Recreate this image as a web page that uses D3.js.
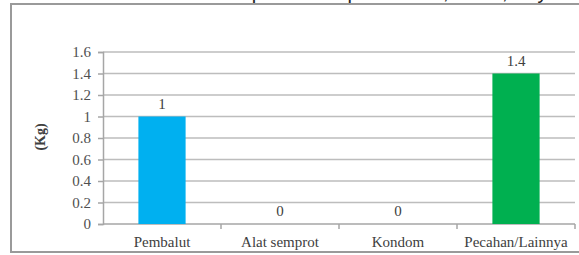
<!doctype html>
<html>
 <head>
  <meta charset='utf-8'>
  <title></title>
  <style>
    html,body{margin:0;background:#fff;}
    svg{display:block;}
    text{font-family:'Liberation Serif','Times New Roman',serif;fill:#404040;}
  </style>
 </head>
 <body>
  <svg id='chart' width='579' height='255'></svg>
  <script src='https://cdn.jsdelivr.net/npm/d3@7/dist/d3.min.js'></script>
  <script>
    // data
    var categories = ['Pembalut','Alat semprot','Kondom','Pecahan/Lainnya']
    var values     = [1, 0, 0, 1.4]
    var colors     = ['#00b0f0','#00b050','#00b050','#00b050']
    var yTicks     = [0,0.2,0.4,0.6,0.8,1,1.2,1.4,1.6]
    var caption    = 'Gambar 4.8. Sampah Kelompok Kertas, Karet, Kayu'

    var svg = d3.select('#chart')

    // caption cut off at the top
    svg.append('text')
       .attr('x',94).attr('y',-1)
       .style('font-family','Liberation Sans,Arial,sans-serif')
       .style('font-size','20px')
       .style('fill','#222')
       .text(caption)

    // frame
    svg.append('rect')
       .attr('x',11).attr('y',4)
       .attr('width',590).attr('height',248)
       .attr('fill','none')
       .attr('stroke','#9a9a9a')
       .attr('stroke-width',2)

    var x = d3.scaleBand().domain(categories).range([103,575]).paddingInner(0.6).paddingOuter(0.3)
    var y = d3.scaleLinear().domain([0,1.6]).range([224,52])

    // grid
    svg.append('g')
       .selectAll('line')
       .data(yTicks.slice(1))
       .join('line')
       .attr('x1',103).attr('x2',575)
       .attr('y1',function(d){ return y(d) })
       .attr('y2',function(d){ return y(d) })
       .attr('stroke','#bdbdbd')
       .attr('stroke-width',1.5)

    // y axis
    var yAxis = svg.append('g')
       .attr('transform','translate(103,0)')
       .call(d3.axisLeft(y).tickValues(yTicks).tickSize(5).tickPadding(7).tickFormat(d3.format('')))
    yAxis.select('.domain').attr('stroke','#a6a6a6').attr('stroke-width',1.5)
    yAxis.selectAll('.tick line').attr('stroke','#a6a6a6').attr('stroke-width',1.5)
    yAxis.selectAll('text').style('font-size','15px').style('fill','#505050')

    // x axis
    var xb = d3.scaleLinear().domain([0,4]).range([103,575])
    svg.append('line')
       .attr('x1',103).attr('x2',575)
       .attr('y1',y(0)).attr('y2',y(0))
       .attr('stroke','#a6a6a6').attr('stroke-width',1.5)
    svg.append('g')
       .selectAll('line')
       .data([1,2,3,4])
       .join('line')
       .attr('x1',function(d){ return xb(d) })
       .attr('x2',function(d){ return xb(d) })
       .attr('y1',y(0)).attr('y2',y(0)+5)
       .attr('stroke','#a6a6a6').attr('stroke-width',1.5)
    svg.append('g')
       .selectAll('text')
       .data(categories)
       .join('text')
       .attr('x',function(d){ return x(d)+x.bandwidth()/2 })
       .attr('y',247)
       .attr('text-anchor','middle')
       .style('font-size','15px')
       .text(function(d){ return d })

    // bars
    svg.append('g')
       .selectAll('rect')
       .data(values)
       .join('rect')
       .attr('x',function(d,i){ return x(categories[i]) })
       .attr('y',function(d){ return y(d) })
       .attr('width',x.bandwidth())
       .attr('height',function(d){ return y(0)-y(d) })
       .attr('fill',function(d,i){ return colors[i] })

    // labels
    svg.append('g')
       .selectAll('text')
       .data(values)
       .join('text')
       .attr('x',function(d,i){ return x(categories[i])+x.bandwidth()/2 })
       .attr('y',function(d){ return y(d)-8 })
       .attr('text-anchor','middle')
       .style('font-size','15px')
       .text(function(d){ return d })

    // y title
    svg.append('text')
       .attr('transform','translate(45,137) rotate(-90)')
       .attr('text-anchor','middle')
       .style('font-size','14px')
       .style('font-weight','bold')
       .text('(Kg)')
  </script>
 </body>
</html>
